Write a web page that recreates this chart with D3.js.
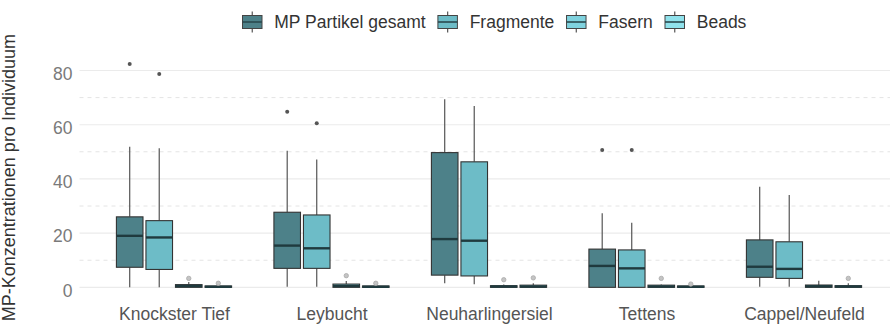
<!DOCTYPE html>
<html>
<head>
<meta charset="utf-8">
<script src="https://cdn.jsdelivr.net/npm/d3@7"></script>
<style>
  html, body { margin: 0; padding: 0; background: #fff; }
  svg { display: block; font-family: "Liberation Sans", Arial, sans-serif; }
</style>
</head>
<body>
<svg id="chart" width="890" height="324"></svg>
<script>
// Sampling sites (x axis) and particle classes (dodged boxes)
const sites = ["Knockster Tief", "Leybucht", "Neuharlingersiel", "Tettens", "Cappel/Neufeld"];
const classes = ["MP Partikel gesamt", "Fragmente", "Fasern", "Beads"];
const classColors = ["#4d8189", "#6dbcc7", "#7fd2de", "#90e2ec"];
const yTicks = [0, 20, 40, 60, 80];
const yMinor = [10, 30, 50, 70];

// Box statistics per class, one entry per site:
// [lower whisker, Q1, median, Q3, upper whisker]
const statsGesamt = [
  [0, 7.4, 19.0, 26.0, 51.9],
  [0.2, 7.0, 15.4, 27.7, 50.4],
  [1.5, 4.5, 17.8, 49.7, 69.4],
  [0, 0, 7.9, 14.1, 27.3],
  [0.2, 3.7, 7.6, 17.5, 37.1]
];
const statsFragmente = [
  [0, 6.6, 18.4, 24.6, 51.3],
  [0.2, 7.0, 14.4, 26.7, 47.2],
  [1.1, 4.2, 17.2, 46.3, 66.9],
  [0, 0, 7.0, 13.8, 23.8],
  [0.2, 3.3, 6.8, 16.8, 34.1]
];
const statsFasern = [
  [0, 0, 0.5, 1.0, 2.0],
  [0, 0, 0.5, 1.2, 2.3],
  [0, 0, 0.3, 0.6, 1.0],
  [0, 0, 0.3, 0.8, 1.0],
  [0, 0, 0.4, 0.85, 2.4]
];
const statsBeads = [
  [0, 0, 0.2, 0.5, 0.5],
  [0, 0, 0.2, 0.5, 0.5],
  [0, 0, 0.3, 0.8, 1.5],
  [0, 0, 0.2, 0.5, 0.5],
  [0, 0, 0.3, 0.6, 1.5]
];

// Outliers per class, one list per site
const outGesamt = [[82.4], [64.8], [], [50.7], []];
const outFragmente = [[78.7], [60.5], [], [50.7], []];
const outFasern = [[3.3], [4.3], [2.8], [3.3], []];
const outBeads = [[1.5], [1.5], [3.5], [1.2], [3.3]];

const allStats = [statsGesamt, statsFragmente, statsFasern, statsBeads];
const allOut = [outGesamt, outFragmente, outFasern, outBeads];

const boxes = [];
sites.forEach((site, i) => {
  classes.forEach((cls, j) => {
    const s = allStats[j][i];
    boxes.push({ site, cls, ci: j, lo: s[0], q1: s[1], med: s[2], q3: s[3], hi: s[4], out: allOut[j][i] });
  });
});

const svg = d3.select("#chart");
const panel = { left: 79.5, right: 898.5, top: 52.8, bottom: 298.5 };

const x = d3.scalePoint().domain(sites).range([panel.left, panel.right]).padding(0.6);
const step = x.step();
const xInner = d3.scaleBand().domain(classes).range([-0.375 * step, 0.375 * step]).paddingInner(0);
const boxW = xInner.bandwidth() * 0.9;

const dataMax = d3.max(boxes, d => Math.max(d.hi, ...d.out));
const expand = dataMax * 0.05;
const y = d3.scaleLinear().domain([0 - expand, dataMax + expand]).range([panel.bottom, panel.top]);

// Grid
const grid = svg.append("g");
grid.selectAll("line.minor").data(yMinor).join("line")
  .attr("class", "minor")
  .attr("x1", panel.left).attr("x2", panel.right)
  .attr("y1", d => y(d)).attr("y2", d => y(d))
  .attr("stroke", "#e4e4e4").attr("stroke-width", 1).attr("stroke-dasharray", "4,4");
grid.selectAll("line.major").data(yTicks).join("line")
  .attr("class", "major")
  .attr("x1", panel.left).attr("x2", panel.right)
  .attr("y1", d => y(d)).attr("y2", d => y(d))
  .attr("stroke", "#ebebeb").attr("stroke-width", 1.1);

// Y axis labels
const yAxis = d3.axisLeft(y).tickValues(yTicks).tickSize(0).tickPadding(7);
const yG = svg.append("g").attr("transform", `translate(${panel.left},0)`).call(yAxis);
yG.select(".domain").remove();
yG.selectAll("text")
  .attr("font-size", "17.5px").attr("fill", "#7a7a7a")
  .attr("font-family", "Liberation Sans, Arial, sans-serif")
  .attr("dy", "0.5em");

// X axis labels
const xAxis = d3.axisBottom(x).tickSize(0).tickPadding(0);
const xG = svg.append("g").attr("transform", `translate(0,${panel.bottom})`).call(xAxis);
xG.select(".domain").remove();
xG.selectAll("text")
  .attr("font-size", "17.5px").attr("fill", "#555")
  .attr("font-family", "Liberation Sans, Arial, sans-serif")
  .attr("dy", null).attr("y", 21.5);

// Y axis title
svg.append("text")
  .attr("transform", `translate(15,${(panel.top + panel.bottom) / 2 + 2}) rotate(-90)`)
  .attr("text-anchor", "middle")
  .attr("font-size", "18px").attr("fill", "#333")
  .text("MP-Konzentrationen pro Individuum");

// Boxplots
const bx = d => x(d.site) + xInner(d.cls) + xInner.bandwidth() / 2;
const bg = svg.append("g").selectAll("g").data(boxes).join("g");

bg.append("line")
  .attr("x1", bx).attr("x2", bx)
  .attr("y1", d => y(d.hi)).attr("y2", d => y(d.q3))
  .attr("stroke", "#555").attr("stroke-width", 1.2);
bg.append("line")
  .attr("x1", bx).attr("x2", bx)
  .attr("y1", d => y(d.q1)).attr("y2", d => y(d.lo))
  .attr("stroke", "#555").attr("stroke-width", 1.2);
bg.append("rect")
  .attr("x", d => bx(d) - boxW / 2).attr("width", boxW)
  .attr("y", d => y(d.q3)).attr("height", d => Math.max(0, y(d.q1) - y(d.q3)))
  .attr("fill", d => classColors[d.ci])
  .attr("stroke", "#333").attr("stroke-width", 1.1);
bg.append("line")
  .attr("x1", d => bx(d) - boxW / 2).attr("x2", d => bx(d) + boxW / 2)
  .attr("y1", d => y(d.med)).attr("y2", d => y(d.med))
  .attr("stroke", "#1f3a3e").attr("stroke-width", 2.4);
bg.selectAll("circle").data(d => d.out.map(v => ({ v, d }))).join("circle")
  .attr("cx", o => bx(o.d)).attr("cy", o => y(o.v))
  .attr("r", o => o.d.ci < 2 ? 2 : 2.2)
  .attr("fill", o => o.d.ci < 2 ? "#555" : "#c4c4c4")
  .attr("stroke", o => o.d.ci < 2 ? "none" : "#a9a9a9")
  .attr("stroke-width", 0.8);

// Legend
const legend = svg.append("g");
let lx = 239.25;
const keyS = 26, keyCy = 22;
classes.forEach((cls, j) => {
  const g = legend.append("g").attr("transform", `translate(${lx},${keyCy - keyS / 2})`);
  g.append("line").attr("x1", keyS / 2).attr("x2", keyS / 2)
    .attr("y1", keyS * 0.1).attr("y2", keyS * 0.9)
    .attr("stroke", "#555").attr("stroke-width", 1.2);
  g.append("rect").attr("x", keyS * 0.125).attr("width", keyS * 0.75)
    .attr("y", keyS * 0.25).attr("height", keyS * 0.5)
    .attr("fill", classColors[j]).attr("stroke", "#444").attr("stroke-width", 1);
  g.append("line").attr("x1", keyS * 0.125).attr("x2", keyS * 0.875)
    .attr("y1", keyS / 2).attr("y2", keyS / 2)
    .attr("stroke", "#2a4a4e").attr("stroke-width", 1.6);
  const t = legend.append("text")
    .attr("x", lx + keyS + 9).attr("y", keyCy + 6.3)
    .attr("font-size", "17.5px").attr("fill", "#333")
    .text(cls);
  lx = lx + keyS + 9 + t.node().getComputedTextLength() + 9;
});
</script>
</body>
</html>
